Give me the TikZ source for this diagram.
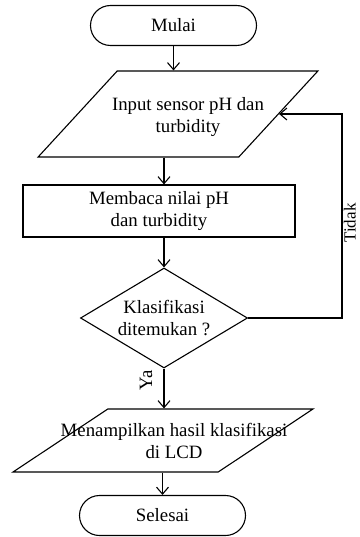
\documentclass[tikz,border=0pt]{standalone}
\usepackage{fontspec}
\setmainfont{Liberation Serif}
\usetikzlibrary{shapes.geometric,shapes.misc,arrows.meta}
\begin{document}
\begin{tikzpicture}[x=1pt,y=-1pt,
  every node/.style={font=\fontsize{18.8}{22}\selectfont},
  arr/.style={line width=1.1pt,-{Straight Barb[length=7pt,width=12pt,line width=1.1pt]}},
  term/.style={rounded rectangle,draw,line width=1.1pt,minimum width=166pt,minimum height=40pt,inner sep=0pt},
  io/.style={trapezium,draw,line width=1.1pt,trapezium stretches=true,inner sep=3pt},
  procbox/.style={rectangle,draw,line width=1.1pt,minimum width=272pt,minimum height=52pt,align=center,inner sep=0pt},
  decbox/.style={diamond,draw,line width=1.1pt,aspect=1.67,minimum width=167pt,minimum height=100pt,inner sep=0pt,align=center},
  txt/.style={align=center,inner sep=0pt},
  lbl/.style={inner sep=0pt,rotate=90}
]
\useasboundingbox (0,0) rectangle (359,537);
\node[term] (start) at (173.5,25.5) {Mulai};
\node[io,minimum width=280pt,minimum height=86pt,trapezium left angle=55.6,trapezium right angle=124.4] (in) at (178,114) {\phantom{x}};
\node[txt] (intxt) at (188,117) {Input sensor pH dan\\turbidity};
\node[procbox] (proc) at (159,211) {Membaca nilai pH\\dan turbidity};
\node[decbox] (dec) at (164,318) {Klasifikasi\\ditemukan ?};
\node[io,minimum width=300pt,minimum height=63pt,trapezium left angle=47.9,trapezium right angle=132.1] (out) at (163,440.5) {\phantom{x}};
\node[txt] (outtxt) at (174,441) {Menampilkan hasil klasifikasi\\di LCD};
\node[term] (end) at (162.5,515.5) {Selesai};
\coordinate (fb) at (342,0);
\draw[arr] (start.south) -- (start.south |- in.north);
\draw[arr] (in.south -| dec.north) -- (proc.north -| dec.north);
\draw[arr] (proc.south -| dec.north) -- (dec.north);
\draw[arr] (dec.south) -- (dec.south |- out.north);
\draw[arr] (out.south -| end.north) -- (end.north);
\draw[arr] (dec.east) -| (fb |- in.east) -- (in.east);
\node[lbl] (ya) at (146,380) {Ya};
\node[lbl,anchor=base,font=\fontsize{17}{20}\selectfont] (tidak) at (355.5,223) {Tidak};
\end{tikzpicture}
\end{document}
